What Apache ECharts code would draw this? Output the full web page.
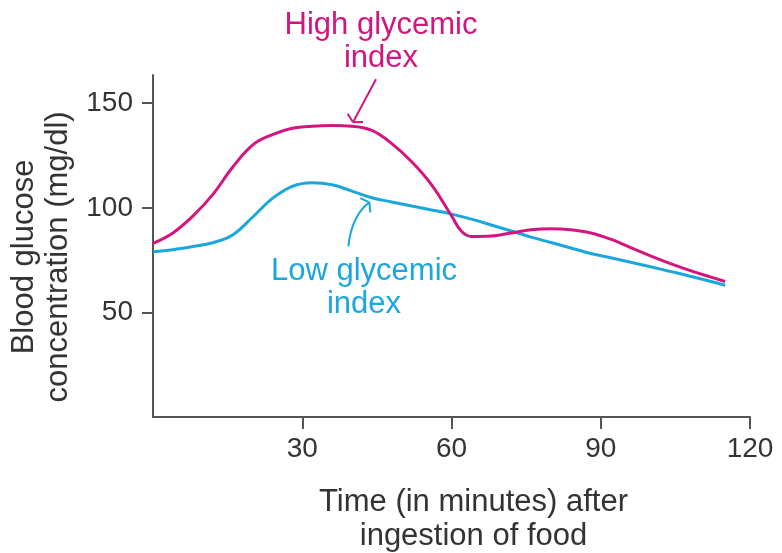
<!DOCTYPE html>
<html>
<head>
<meta charset="utf-8">
<script src="https://cdn.jsdelivr.net/npm/echarts@6/dist/echarts.min.js"></script>
<style>
html, body { margin: 0; padding: 0; background: #fff; }
#chart { width: 782px; height: 553px; }
</style>
</head>
<body>
<div id="chart"></div>
<script>
// values (minutes, mg/dl)
const highTime    = [0, 4, 8, 12, 16, 20, 24, 28, 32, 36, 40, 44, 48, 52, 56, 60, 62, 64, 68, 72, 76, 80, 84, 88, 92, 96, 100, 104, 108, 112, 115];
const highGlucose = [83, 88, 96, 106.3, 119.4, 130, 135, 138, 139, 139.3, 139, 137, 130.7, 122, 111, 96.2, 88.8, 86.3, 86.5, 88, 89.5, 90, 89.5, 88, 85, 81, 77, 73.3, 70, 67, 64.8];
const lowTime     = [0, 4, 8, 12, 16, 20, 24, 28, 32, 36, 40, 44, 48, 52, 56, 60, 64, 68, 72, 76, 80, 84, 88, 92, 96, 100, 104, 108, 112, 115];
const lowGlucose  = [79, 80, 81.5, 83.3, 87, 95.5, 104.5, 110.3, 112, 111, 108, 104.8, 102.8, 100.9, 99, 97, 94.6, 91.8, 88.9, 86, 83.4, 80.8, 78.2, 76.1, 74, 71.8, 69.6, 67.3, 64.9, 63];
const xTicks = [30, 60, 90, 120];
const yTicks = [50, 100, 150];

const magenta = '#d4157f';
const cyan = '#1ca6de';
const axisColor = '#555555';
const labelColor = '#333333';
const font = '"Liberation Sans", Arial, Helvetica, sans-serif';

const chart = echarts.init(document.getElementById('chart'));

function pairs(xs, ys) {
  return xs.map((x, i) => [x, ys[i]]);
}

const option = {
  animation: false,
  grid: { left: 153, right: 32, top: 75, bottom: 136, containLabel: false, outerBoundsMode: 'none' },
  xAxis: {
    type: 'value',
    min: 0,
    max: 120,
    axisLine: { show: true, onZero: false, lineStyle: { color: axisColor, width: 2 } },
    axisTick: { show: true, length: 12, customValues: xTicks, lineStyle: { color: axisColor, width: 2 } },
    axisLabel: { customValues: xTicks, margin: 18, fontSize: 28, color: labelColor, fontFamily: font },
    splitLine: { show: false },
    name: 'Time (in minutes) after\ningestion of food',
    nameLocation: 'middle',
    nameGap: 68,
    nameTextStyle: { fontSize: 31, color: labelColor, fontFamily: font, lineHeight: 34, padding: [0, 0, 0, 44] }
  },
  yAxis: {
    type: 'value',
    min: 0,
    max: 163.5,
    axisLine: { show: true, onZero: false, lineStyle: { color: axisColor, width: 2 } },
    axisTick: { show: true, length: 11, customValues: yTicks, lineStyle: { color: axisColor, width: 2 } },
    axisLabel: { customValues: yTicks, margin: 20, fontSize: 28, color: labelColor, fontFamily: font },
    splitLine: { show: false },
    name: 'Blood glucose\nconcentration (mg/dl)',
    nameLocation: 'middle',
    nameGap: 78,
    nameTextStyle: { fontSize: 31, color: labelColor, fontFamily: font, lineHeight: 34, padding: [0, 22, 0, 0] }
  },
  series: [
    {
      name: 'High glycemic index',
      type: 'line',
      data: pairs(highTime, highGlucose),
      smooth: 0.4,
      showSymbol: false,
      lineStyle: { color: magenta, width: 3 },
      z: 3
    },
    {
      name: 'Low glycemic index',
      type: 'line',
      data: pairs(lowTime, lowGlucose),
      smooth: 0.4,
      showSymbol: false,
      lineStyle: { color: cyan, width: 3 },
      z: 2
    }
  ]
};

chart.setOption(option);

// arrow heads: two short barbs behind the tip
function barbs(tip, dir, len, ang, color) {
  const n = Math.hypot(dir[0], dir[1]);
  const dx = dir[0] / n, dy = dir[1] / n;
  const out = [];
  [ang, -ang].forEach(a => {
    const c = Math.cos(a), s = Math.sin(a);
    const bx = -(dx * c - dy * s), by = -(dx * s + dy * c);
    out.push({
      type: 'line',
      shape: { x1: tip[0], y1: tip[1], x2: tip[0] + bx * len, y2: tip[1] + by * len },
      style: { stroke: color, lineWidth: 2 },
      silent: true
    });
  });
  return out;
}

const hiPt = chart.convertToPixel({ seriesIndex: 0 }, [40, 139]);
const hiTip = [hiPt[0] + 1, hiPt[1] - 4];
const hiStart = [hiTip[0] + 23, hiTip[1] - 43];

const loPt = chart.convertToPixel({ seriesIndex: 1 }, [43.5, 105]);
const loTip = [loPt[0], loPt[1] + 5];

const graphic = [
  {
    type: 'text',
    x: 381,
    y: 42,
    style: {
      text: 'High glycemic\nindex',
      fill: magenta,
      fontSize: 31,
      fontFamily: font,
      lineHeight: 33,
      align: 'center',
      verticalAlign: 'middle'
    },
    silent: true
  },
  {
    type: 'text',
    x: 364,
    y: 288,
    style: {
      text: 'Low glycemic\nindex',
      fill: cyan,
      fontSize: 31,
      fontFamily: font,
      lineHeight: 33,
      align: 'center',
      verticalAlign: 'middle'
    },
    silent: true
  },
  {
    type: 'line',
    shape: { x1: hiStart[0], y1: hiStart[1], x2: hiTip[0], y2: hiTip[1] },
    style: { stroke: magenta, lineWidth: 2 },
    silent: true
  },
  ...barbs(hiTip, [hiTip[0] - hiStart[0], hiTip[1] - hiStart[1]], 10, 1.05, magenta),
  {
    type: 'bezierCurve',
    shape: {
      x1: loTip[0] - 21, y1: loTip[1] + 44,
      cpx1: loTip[0] - 19, cpy1: loTip[1] + 22,
      cpx2: loTip[0] - 10, cpy2: loTip[1] + 7,
      x2: loTip[0], y2: loTip[1]
    },
    style: { stroke: cyan, lineWidth: 2, fill: null },
    silent: true
  },
  ...barbs(loTip, [10, -7], 10, 1.05, cyan)
];

chart.setOption({ graphic: graphic });
</script>
</body>
</html>
